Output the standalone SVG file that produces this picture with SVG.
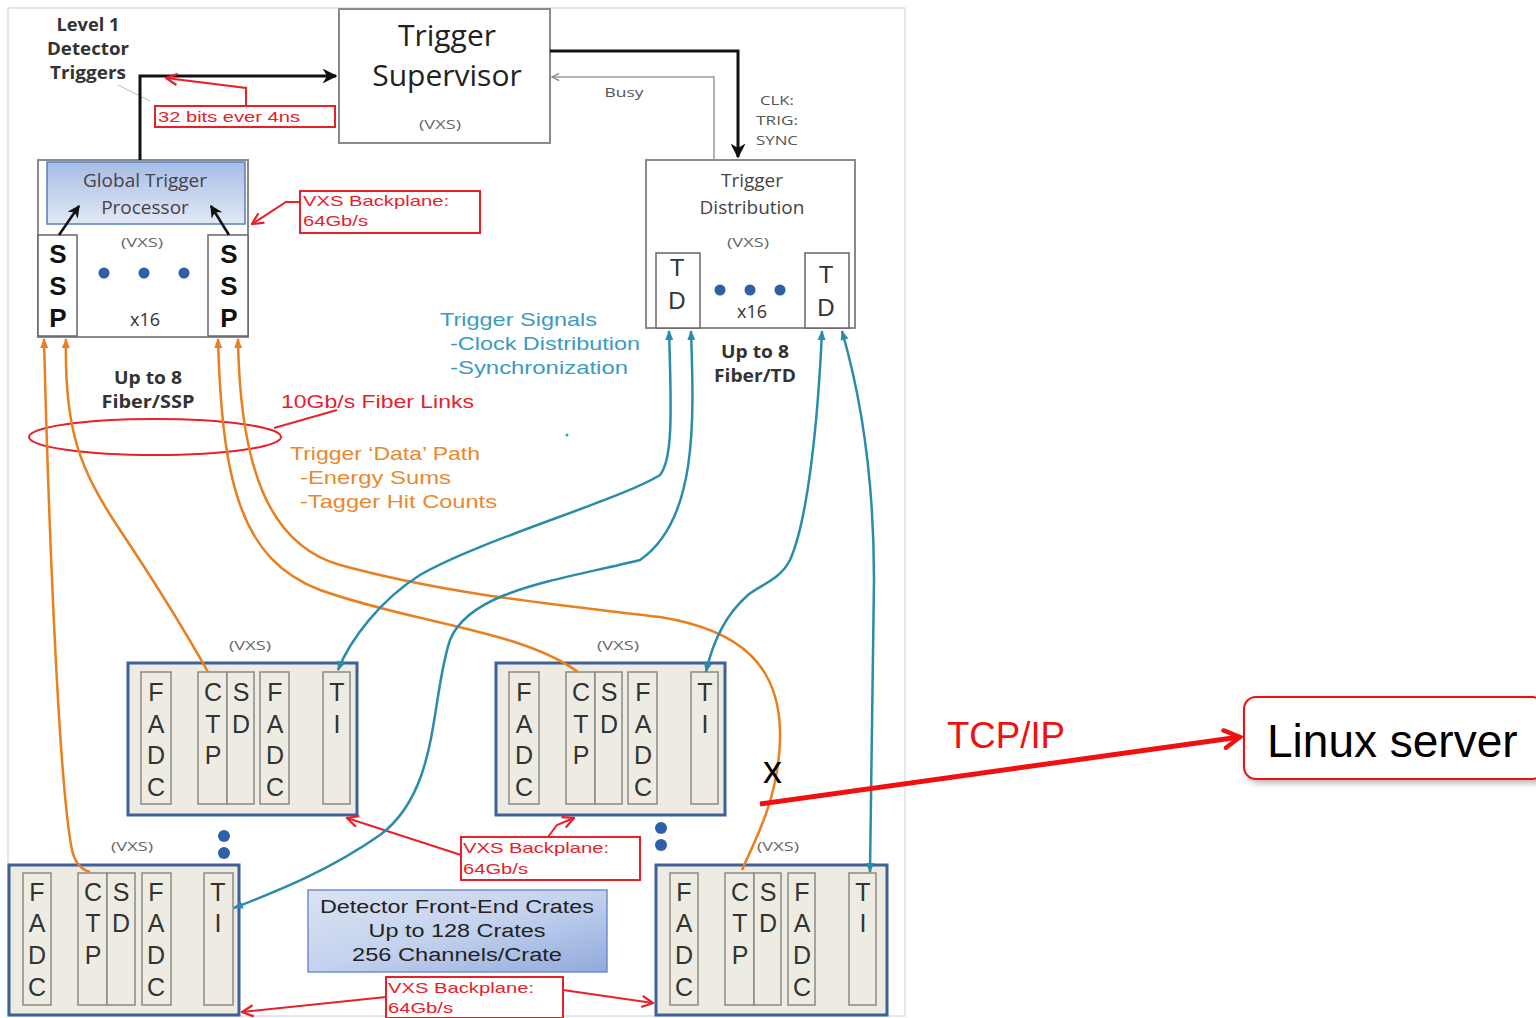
<svg xmlns="http://www.w3.org/2000/svg" width="1536" height="1018" viewBox="0 0 1536 1018">
<defs>
<style>
.cal{font-family:"Open Sans","Liberation Sans",sans-serif}
.ar{font-family:"Liberation Sans",Arial,sans-serif}
.box{fill:#fff;stroke:#8a8a8a;stroke-width:2}
.slot{fill:#fff;stroke:#666;stroke-width:1.5}
.crate{fill:#eeece2;stroke:#3f6198;stroke-width:3}
.cslot{fill:#eeece2;stroke:#8a8a85;stroke-width:1.5}
.lt{font-family:"Liberation Sans",Arial,sans-serif;font-size:25px;fill:#333;text-anchor:middle}
.vxs{font-family:"Open Sans",sans-serif;font-size:12px;fill:#666;text-anchor:middle}
.or{fill:none;stroke:#e8801f;stroke-width:2.5}
.tl{fill:none;stroke:#2a8caa;stroke-width:2.5}
.rd{fill:none;stroke:#e8202a;stroke-width:2}
.rbox{fill:#fff;stroke:#e8202a;stroke-width:2}
.rt{font-family:"Liberation Sans",Arial,sans-serif;font-size:15px;fill:#e8202a}
.dot{fill:#2e5fa8}
.lbl{font-family:"Open Sans",sans-serif;font-weight:bold;font-size:17px;fill:#333;text-anchor:middle}
.tt{font-family:"Liberation Sans",Arial,sans-serif;font-size:19px;fill:#3a9bbf}
.ot{font-family:"Liberation Sans",Arial,sans-serif;font-size:19px;fill:#e8892e}
.ssp{font-family:"Liberation Sans",Arial,sans-serif;font-size:26px;font-weight:bold;fill:#111;text-anchor:middle}
.tdl{font-family:"Liberation Sans",Arial,sans-serif;font-size:24px;fill:#333;text-anchor:middle}
.sm{font-family:"Open Sans",sans-serif;font-size:13px;fill:#555;text-anchor:middle}
</style>
<linearGradient id="gtp" x1="0" y1="0" x2="0" y2="1"><stop offset="0" stop-color="#a6bce6"/><stop offset="1" stop-color="#e3e9f6"/></linearGradient>
<linearGradient id="det" x1="0" y1="0" x2="1" y2="1"><stop offset="0" stop-color="#dbe3f3"/><stop offset="0.5" stop-color="#c4d2ee"/><stop offset="1" stop-color="#90aadb"/></linearGradient>
<filter id="sh" x="-10%" y="-20%" width="130%" height="150%"><feDropShadow dx="3" dy="3" stdDeviation="3" flood-opacity="0.3"/></filter>
<marker id="ab" viewBox="0 0 10 10" refX="9" refY="5" markerWidth="5" markerHeight="5" orient="auto"><path d="M0,0 L10,5 L0,10 L3,5 z" fill="#111"/></marker>
<marker id="ag" viewBox="0 0 10 10" refX="9" refY="5" markerWidth="6" markerHeight="6" orient="auto"><path d="M1,1 L9,5 L1,9" fill="none" stroke="#888" stroke-width="1.5"/></marker>
<marker id="ar" viewBox="0 0 10 10" refX="9" refY="5" markerWidth="7" markerHeight="7" orient="auto"><path d="M1,1 L9,5 L1,9" fill="none" stroke="#e8202a" stroke-width="1.6"/></marker>
<marker id="arb" viewBox="0 0 10 10" refX="8" refY="5" markerWidth="22" markerHeight="22" markerUnits="userSpaceOnUse" orient="auto"><path d="M1,1 L8,5 L1,9" fill="none" stroke="#f01010" stroke-width="2" stroke-linecap="round"/></marker>
<marker id="at" viewBox="0 0 10 10" refX="9" refY="5" markerWidth="4" markerHeight="4" orient="auto-start-reverse"><path d="M0,1 L10,5 L0,9 z" fill="#2a8caa"/></marker>
<marker id="ao" viewBox="0 0 10 10" refX="9" refY="5" markerWidth="4" markerHeight="4" orient="auto-start-reverse"><path d="M0,1 L10,5 L0,9 z" fill="#e8801f"/></marker>
</defs>
<rect width="1536" height="1018" fill="#fff"/>
<rect x="8" y="8" width="897" height="1008" fill="#fff" stroke="#d8e2ec" stroke-width="1.5"/>

<g id="level1-label">
<text class="lbl" x="88" y="31" textLength="63" lengthAdjust="spacingAndGlyphs">Level 1</text>
<text class="lbl" x="88" y="55" textLength="82" lengthAdjust="spacingAndGlyphs">Detector</text>
<text class="lbl" x="88" y="79" textLength="76" lengthAdjust="spacingAndGlyphs">Triggers</text>
<path d="M118,85 L150,101" stroke="#9cc2dc" stroke-width="1" fill="none"/>
</g>

<g id="trigger-supervisor">
<rect class="box" x="339" y="9" width="211" height="134"/>
<text class="cal" x="447" y="46" font-size="30" fill="#222" text-anchor="middle">Trigger</text>
<text class="cal" x="447" y="86" font-size="30" fill="#222" text-anchor="middle">Supervisor</text>
<text class="vxs" x="440" y="129" textLength="42" lengthAdjust="spacingAndGlyphs">(VXS)</text>
</g>

<g id="global-trigger-processor">
<rect class="box" x="38" y="160" width="210" height="177"/>
<rect x="47" y="162" width="198" height="62" fill="url(#gtp)" stroke="#5b7cc0" stroke-width="1.5"/>
<text class="cal" x="145" y="187" font-size="19" fill="#444" text-anchor="middle">Global Trigger</text>
<text class="cal" x="145" y="214" font-size="19" fill="#444" text-anchor="middle">Processor</text>
<text class="vxs" x="142" y="247" textLength="42" lengthAdjust="spacingAndGlyphs">(VXS)</text>
<circle class="dot" cx="104" cy="273" r="5.5"/>
<circle class="dot" cx="144" cy="273" r="5.5"/>
<circle class="dot" cx="184" cy="273" r="5.5"/>
<text class="cal" x="145" y="326" font-size="18" fill="#333" text-anchor="middle">x16</text>
</g>
<g id="ssp-left">
<rect class="slot" x="38" y="235" width="39" height="101"/>
<text class="ssp" x="58" y="263">S</text>
<text class="ssp" x="58" y="295">S</text>
<text class="ssp" x="58" y="327">P</text>
</g>
<g id="ssp-right">
<rect class="slot" x="208" y="235" width="40" height="101"/>
<text class="ssp" x="229" y="263">S</text>
<text class="ssp" x="229" y="295">S</text>
<text class="ssp" x="229" y="327">P</text>
</g>

<g id="trigger-distribution">
<rect class="box" x="646" y="160" width="209" height="168"/>
<text class="cal" x="752" y="187" font-size="19" fill="#444" text-anchor="middle">Trigger</text>
<text class="cal" x="752" y="214" font-size="19" fill="#444" text-anchor="middle">Distribution</text>
<text class="vxs" x="748" y="247" textLength="42" lengthAdjust="spacingAndGlyphs">(VXS)</text>
<circle class="dot" cx="720" cy="290" r="5.5"/>
<circle class="dot" cx="750" cy="290" r="5.5"/>
<circle class="dot" cx="780" cy="290" r="5.5"/>
<text class="cal" x="752" y="318" font-size="18" fill="#333" text-anchor="middle">x16</text>
</g>
<g id="td-left">
<rect class="slot" x="656" y="253" width="44" height="75"/>
<text class="tdl" x="677" y="276">T</text>
<text class="tdl" x="677" y="309">D</text>
</g>
<g id="td-right">
<rect class="slot" x="805" y="253" width="44" height="75"/>
<text class="tdl" x="826" y="283">T</text>
<text class="tdl" x="826" y="316">D</text>
</g>

<g id="labels">
<text class="sm" x="624" y="97" textLength="39" lengthAdjust="spacingAndGlyphs">Busy</text>
<text class="sm" x="777" y="105" textLength="34" lengthAdjust="spacingAndGlyphs">CLK:</text>
<text class="sm" x="777" y="125" textLength="42" lengthAdjust="spacingAndGlyphs">TRIG:</text>
<text class="sm" x="777" y="145" textLength="42" lengthAdjust="spacingAndGlyphs">SYNC</text>
<text class="lbl" x="755" y="358" textLength="68" lengthAdjust="spacingAndGlyphs">Up to 8</text>
<text class="lbl" x="755" y="382" textLength="82" lengthAdjust="spacingAndGlyphs">Fiber/TD</text>
<text class="lbl" x="148" y="384" textLength="68" lengthAdjust="spacingAndGlyphs">Up to 8</text>
<text class="lbl" x="148" y="408" textLength="93" lengthAdjust="spacingAndGlyphs">Fiber/SSP</text>
<text class="tt" x="440" y="326" textLength="157" lengthAdjust="spacingAndGlyphs">Trigger Signals</text>
<text class="tt" x="450" y="350" textLength="190" lengthAdjust="spacingAndGlyphs">-Clock Distribution</text>
<text class="tt" x="450" y="374" textLength="178" lengthAdjust="spacingAndGlyphs">-Synchronization</text>
<text class="ar" x="281" y="408" font-size="19" fill="#e8202a" textLength="193" lengthAdjust="spacingAndGlyphs">10Gb/s Fiber Links</text>
<text class="ot" x="290" y="460" textLength="190" lengthAdjust="spacingAndGlyphs">Trigger ‘Data’ Path</text>
<text class="ot" x="300" y="484" textLength="151" lengthAdjust="spacingAndGlyphs">-Energy Sums</text>
<text class="ot" x="300" y="508" textLength="197" lengthAdjust="spacingAndGlyphs">-Tagger Hit Counts</text>
<circle cx="567" cy="435" r="1.5" fill="#3a9bbf"/>
</g>

<g id="note-32bits">
<rect class="rbox" x="155" y="106" width="180" height="21"/>
<text class="rt" x="158" y="122" textLength="142" lengthAdjust="spacingAndGlyphs">32 bits ever 4ns</text>
</g>
<g id="note-vxs-1">
<rect class="rbox" x="300" y="191" width="180" height="42"/>
<text class="rt" x="303" y="206" textLength="146" lengthAdjust="spacingAndGlyphs">VXS Backplane:</text>
<text class="rt" x="303" y="226" textLength="65" lengthAdjust="spacingAndGlyphs">64Gb/s</text>
</g>
<g id="note-vxs-2">
<rect class="rbox" x="461" y="837" width="179" height="43"/>
<text class="rt" x="463" y="853" textLength="146" lengthAdjust="spacingAndGlyphs">VXS Backplane:</text>
<text class="rt" x="463" y="874" textLength="65" lengthAdjust="spacingAndGlyphs">64Gb/s</text>
</g>
<g id="note-vxs-3">
<rect class="rbox" x="386" y="977" width="177" height="41"/>
<text class="rt" x="388" y="993" textLength="146" lengthAdjust="spacingAndGlyphs">VXS Backplane:</text>
<text class="rt" x="388" y="1013" textLength="65" lengthAdjust="spacingAndGlyphs">64Gb/s</text>
</g>
<g id="fiber-ellipse">
<ellipse cx="155" cy="437" rx="126" ry="18" fill="none" stroke="#e8202a" stroke-width="2"/>
</g>

<g id="crate-a" transform="translate(128,663)">
<text class="vxs" x="122" y="-13" textLength="42" lengthAdjust="spacingAndGlyphs">(VXS)</text>
<rect class="crate" x="0" y="0" width="229" height="152"/>
<rect class="cslot" x="13" y="9" width="30" height="132"/>
<rect class="cslot" x="70" y="9" width="29" height="132"/>
<rect class="cslot" x="99" y="9" width="27" height="132"/>
<rect class="cslot" x="132" y="9" width="29" height="132"/>
<rect class="cslot" x="195" y="9" width="27" height="132"/>
<text class="lt" x="28" y="38">F</text><text class="lt" x="28" y="70">A</text><text class="lt" x="28" y="101">D</text><text class="lt" x="28" y="133">C</text>
<text class="lt" x="85" y="38">C</text><text class="lt" x="85" y="70">T</text><text class="lt" x="85" y="101">P</text>
<text class="lt" x="113" y="38">S</text><text class="lt" x="113" y="70">D</text>
<text class="lt" x="147" y="38">F</text><text class="lt" x="147" y="70">A</text><text class="lt" x="147" y="101">D</text><text class="lt" x="147" y="133">C</text>
<text class="lt" x="209" y="38">T</text><text class="lt" x="209" y="70">I</text>
</g>
<g id="crate-b" transform="translate(496,663)">
<text class="vxs" x="122" y="-13" textLength="42" lengthAdjust="spacingAndGlyphs">(VXS)</text>
<rect class="crate" x="0" y="0" width="229" height="152"/>
<rect class="cslot" x="13" y="9" width="30" height="132"/>
<rect class="cslot" x="70" y="9" width="29" height="132"/>
<rect class="cslot" x="99" y="9" width="27" height="132"/>
<rect class="cslot" x="132" y="9" width="29" height="132"/>
<rect class="cslot" x="195" y="9" width="27" height="132"/>
<text class="lt" x="28" y="38">F</text><text class="lt" x="28" y="70">A</text><text class="lt" x="28" y="101">D</text><text class="lt" x="28" y="133">C</text>
<text class="lt" x="85" y="38">C</text><text class="lt" x="85" y="70">T</text><text class="lt" x="85" y="101">P</text>
<text class="lt" x="113" y="38">S</text><text class="lt" x="113" y="70">D</text>
<text class="lt" x="147" y="38">F</text><text class="lt" x="147" y="70">A</text><text class="lt" x="147" y="101">D</text><text class="lt" x="147" y="133">C</text>
<text class="lt" x="209" y="38">T</text><text class="lt" x="209" y="70">I</text>
</g>
<g id="crate-c" transform="translate(9,865)">
<text class="vxs" x="123" y="-14" textLength="42" lengthAdjust="spacingAndGlyphs">(VXS)</text>
<rect class="crate" x="0" y="0" width="230" height="150"/>
<rect class="cslot" x="14" y="8" width="28" height="132"/>
<rect class="cslot" x="69" y="8" width="29" height="132"/>
<rect class="cslot" x="98" y="8" width="28" height="132"/>
<rect class="cslot" x="133" y="8" width="29" height="132"/>
<rect class="cslot" x="195" y="8" width="29" height="132"/>
<text class="lt" x="28" y="36">F</text><text class="lt" x="28" y="67">A</text><text class="lt" x="28" y="99">D</text><text class="lt" x="28" y="131">C</text>
<text class="lt" x="84" y="36">C</text><text class="lt" x="84" y="67">T</text><text class="lt" x="84" y="99">P</text>
<text class="lt" x="112" y="36">S</text><text class="lt" x="112" y="67">D</text>
<text class="lt" x="147" y="36">F</text><text class="lt" x="147" y="67">A</text><text class="lt" x="147" y="99">D</text><text class="lt" x="147" y="131">C</text>
<text class="lt" x="209" y="36">T</text><text class="lt" x="209" y="67">I</text>
</g>
<g id="crate-d" transform="translate(656,865)">
<text class="vxs" x="122" y="-14" textLength="42" lengthAdjust="spacingAndGlyphs">(VXS)</text>
<rect class="crate" x="0" y="0" width="231" height="150"/>
<rect class="cslot" x="14" y="8" width="28" height="132"/>
<rect class="cslot" x="69" y="8" width="29" height="132"/>
<rect class="cslot" x="98" y="8" width="27" height="132"/>
<rect class="cslot" x="132" y="8" width="27" height="132"/>
<rect class="cslot" x="193" y="8" width="27" height="132"/>
<text class="lt" x="28" y="36">F</text><text class="lt" x="28" y="67">A</text><text class="lt" x="28" y="99">D</text><text class="lt" x="28" y="131">C</text>
<text class="lt" x="84" y="36">C</text><text class="lt" x="84" y="67">T</text><text class="lt" x="84" y="99">P</text>
<text class="lt" x="112" y="36">S</text><text class="lt" x="112" y="67">D</text>
<text class="lt" x="146" y="36">F</text><text class="lt" x="146" y="67">A</text><text class="lt" x="146" y="99">D</text><text class="lt" x="146" y="131">C</text>
<text class="lt" x="207" y="36">T</text><text class="lt" x="207" y="67">I</text>
</g>
<g id="crate-dots">
<circle class="dot" cx="224" cy="836" r="6"/><circle class="dot" cx="224" cy="853" r="6"/>
<circle class="dot" cx="661" cy="828" r="6"/><circle class="dot" cx="661" cy="845" r="6"/>
</g>

<g id="front-end-crates">
<rect x="308" y="890" width="299" height="82" fill="url(#det)" stroke="#7090c8" stroke-width="1.5"/>
<text class="ar" x="457" y="913" font-size="18" fill="#222" text-anchor="middle" textLength="274" lengthAdjust="spacingAndGlyphs">Detector Front-End Crates</text>
<text class="ar" x="457" y="937" font-size="18" fill="#222" text-anchor="middle" textLength="177" lengthAdjust="spacingAndGlyphs">Up to 128 Crates</text>
<text class="ar" x="457" y="961" font-size="18" fill="#222" text-anchor="middle" textLength="210" lengthAdjust="spacingAndGlyphs">256 Channels/Crate</text>
</g>

<g id="linux-server">
<rect x="1244" y="697" width="300" height="82" rx="12" fill="#fff" stroke="#f01010" stroke-width="2" filter="url(#sh)"/>
<text class="ar" x="1267" y="757" font-size="46" fill="#000">Linux server</text>
</g>

<g id="connectors">
<path d="M140,160 L140,76 L336,76" fill="none" stroke="#111" stroke-width="3" marker-end="url(#ab)"/>
<path d="M550,51 L738,51 L738,157" fill="none" stroke="#111" stroke-width="3" marker-end="url(#ab)"/>
<path d="M714,160 L714,77 L552,77" fill="none" stroke="#999" stroke-width="1.5" marker-end="url(#ag)"/>
<path d="M59,235 L79,206" fill="none" stroke="#111" stroke-width="2.5" marker-end="url(#ab)"/>
<path d="M229,235 L211,206" fill="none" stroke="#111" stroke-width="2.5" marker-end="url(#ab)"/>

<path class="rd" d="M246,106 L246,88 L166,78" marker-end="url(#ar)"/>
<path class="rd" d="M300,202 L286,202 L252,224" marker-end="url(#ar)"/>
<path class="rd" d="M274,428 L337,410"/>
<path class="rd" d="M461,855 L347,818" marker-end="url(#ar)"/>
<path class="rd" d="M548,837 L557,825 L574,818" marker-end="url(#ar)"/>
<path class="rd" d="M386,997 L242,1012" marker-end="url(#ar)"/>
<path class="rd" d="M563,990 L653,1003" marker-end="url(#ar)"/>

<path class="or" d="M44,339 C48,500 58,780 72,850 Q76,868 90,872" marker-start="url(#ao)"/>
<path class="or" d="M66,339 C64,430 80,470 120,530 S190,640 208,672" marker-start="url(#ao)"/>
<path class="or" d="M218,339 C222,480 240,560 320,590 C420,625 520,630 578,672" marker-start="url(#ao)"/>
<path class="or" d="M238,339 C240,470 270,545 340,565 C450,595 560,605 660,617 C740,630 782,665 780,740 C778,800 755,840 742,870" marker-start="url(#ao)"/>

<path class="tl" d="M669,331 C672,420 672,460 660,475 C620,500 480,540 420,575 C380,600 350,640 338,670" marker-start="url(#at)" marker-end="url(#at)"/>
<path class="tl" d="M691,331 C694,420 698,520 640,560 C560,580 470,590 450,640 C430,700 440,790 380,835 C330,870 280,890 234,908" marker-start="url(#at)" marker-end="url(#at)"/>
<path class="tl" d="M822,331 C818,420 808,520 790,560 C780,580 760,585 748,595 C725,615 712,645 706,672" marker-start="url(#at)" marker-end="url(#at)"/>
<path class="tl" d="M842,331 C862,400 874,480 874,580 L870,872" marker-start="url(#at)" marker-end="url(#at)"/>

<path d="M760,804 L1240,737" fill="none" stroke="#f01010" stroke-width="5" marker-end="url(#arb)"/>
</g>
<text class="ar" x="763" y="783" font-size="38" fill="#000">x</text>
<text class="ar" x="1006" y="748" font-size="36" fill="#f01010" text-anchor="middle" textLength="118" lengthAdjust="spacingAndGlyphs">TCP/IP</text>
</svg>
